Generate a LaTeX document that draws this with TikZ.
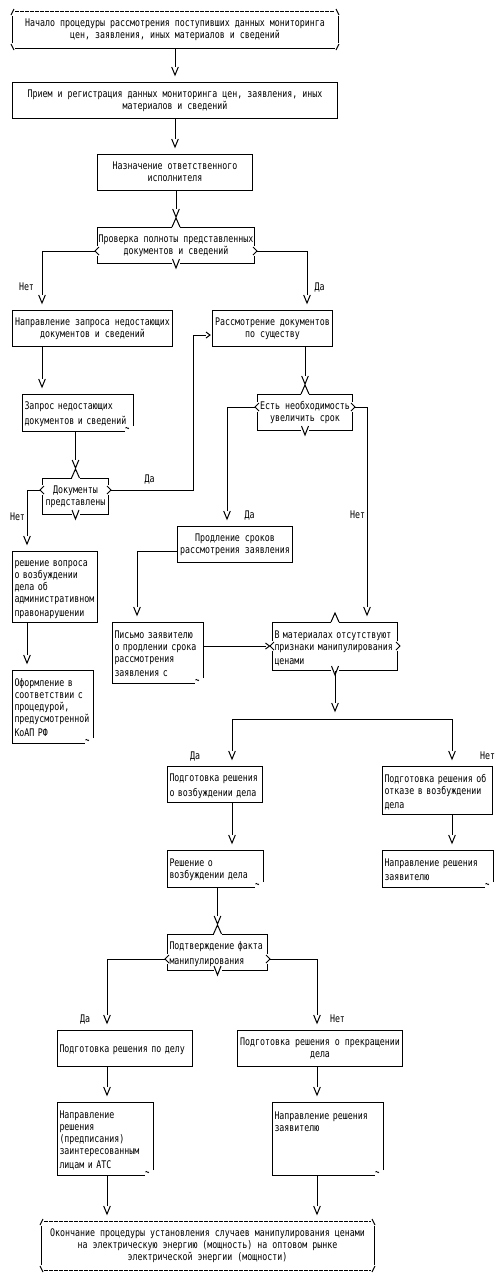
\documentclass[tikz,border=0pt]{standalone}
\usepackage{fontspec}
\newfontfamily\pixfont[FakeStretch=0.79]{DejaVu Sans Mono}
\newcommand\pixfs{\pixfont\fontsize{10.5pt}{12pt}\selectfont}
\newcommand\pixstrut{\vrule height 11pt depth 1pt width 0pt\relax}
\usetikzlibrary{calc,arrows.meta}

\pgfdeclarearrow{
  name = AV,
  parameters = {\the\pgflinewidth},
  setup code = {
    \pgfarrowssettipend{0pt}
    \pgfarrowssetlineend{-8.5pt}
    \pgfarrowssetvisualbackend{-8pt}
    \pgfarrowssetbackend{-8pt}
    \pgfarrowshullpoint{0pt}{0pt}
    \pgfarrowshullpoint{-8pt}{3.3pt}
    \pgfarrowshullpoint{-8pt}{-3.3pt}
  },
  drawing code = {
    \pgfpathmoveto{\pgfqpoint{-8pt}{3.3pt}}
    \pgfpathlineto{\pgfqpoint{0pt}{0pt}}
    \pgfpathlineto{\pgfqpoint{-8pt}{-3.3pt}}
    \pgfusepathqstroke
  }
}
\pgfdeclarearrow{
  name = AH,
  parameters = {\the\pgflinewidth},
  setup code = {
    \pgfarrowssettipend{0pt}
    \pgfarrowssetlineend{-4pt}
    \pgfarrowssetvisualbackend{-4pt}
    \pgfarrowssetbackend{-4pt}
    \pgfarrowshullpoint{0pt}{0pt}
    \pgfarrowshullpoint{-4pt}{3pt}
    \pgfarrowshullpoint{-4pt}{-3pt}
  },
  drawing code = {
    \pgfpathmoveto{\pgfqpoint{-4pt}{3pt}}
    \pgfpathlineto{\pgfqpoint{0pt}{0pt}}
    \pgfpathlineto{\pgfqpoint{-4pt}{-3pt}}
    \pgfusepathqstroke
  }
}

\tikzset{
  base/.style={anchor=north west, inner ysep=0pt,
    execute at begin node=\pixstrut, execute at end node=\pixstrut},
  cbox/.style={base, draw, inner xsep=1pt, align=center},
  lbox/.style={base, draw, inner xsep=2pt, align=left},
  cterm/.style={base, inner xsep=1pt, align=center},
  ldoc/.style={base, inner xsep=2pt, align=left},
  lbl/.style={inner sep=0pt},
  conn/.style={-AV, shorten >=7pt},
  dconn/.style={-AV, shorten >=10pt},
  hconn/.style={-AH, shorten >=2pt},
  tdash/.style={dash pattern=on 3.5pt off 1.5pt},
}

\newcommand\docborder[1]{%
  \draw ($(#1.south east)+(0,-5)$) -- (#1.north east) -- (#1.north west) -- (#1.south west) -- ($(#1.south east)+(-8,0)$);
  \draw[line width=0.8pt] ($(#1.south east)+(-7.5,-3)$) .. controls ($(#1.south east)+(-6.5,-5)$) and ($(#1.south east)+(-5,-1)$) .. ($(#1.south east)+(-4,-3)$);
}
\newcommand\termborder[2]{%
  \draw[tdash] ($(#1.north west)+(3,0)$) -- ($(#1.north east)+(-3,0)$);
  \draw[#2] ($(#1.south west)+(3,0)$) -- ($(#1.south east)+(-3,0)$);
  \draw ($(#1.north west)+(0,5)$) -- ($(#1.south west)+(0,-5)$);
  \draw ($(#1.north east)+(0,5)$) -- ($(#1.south east)+(0,-5)$);
  \draw ($(#1.north west)+(-1,4)$) -- ($(#1.north west)+(2,-2)$);
  \draw ($(#1.south west)+(-1,-4)$) -- ($(#1.south west)+(2,2)$);
  \draw ($(#1.north east)+(1,4)$) -- ($(#1.north east)+(-2,-2)$);
  \draw ($(#1.south east)+(1,-4)$) -- ($(#1.south east)+(-2,2)$);
}
\newcommand\decmarks[2]{%
  \coordinate (#1-L) at ($(#1.north west)+(-2,#2)$);
  \coordinate (#1-R) at ($(#1.north east)+(2,#2)$);
  \fill[white] ($(#1.north)+(-4,-1.5)$) rectangle ($(#1.north)+(4,1.5)$);
  \draw ($(#1.north)+(-4,0)$) -- ($(#1.north)+(0,-9)$) -- ($(#1.north)+(4,0)$);
  \fill[white] ($(#1.south)+(-4,-1.5)$) rectangle ($(#1.south)+(4,1.5)$);
  \draw ($(#1.south)+(-3.5,-5)$) -- ($(#1.south)+(0,4)$) -- ($(#1.south)+(3.5,-5)$);
  \fill[white] ($(#1.north west)+(-1.5,#2-5)$) rectangle ($(#1.north west)+(1.5,#2+5)$);
  \fill[white] ($(#1.north east)+(-1.5,#2-5)$) rectangle ($(#1.north east)+(1.5,#2+5)$);
  \draw ($(#1-L)+(4,-4)$) -- (#1-L) -- ($(#1-L)+(4,4)$);
  \draw ($(#1-R)+(-4,-4)$) -- (#1-R) -- ($(#1-R)+(-4,4)$);
}

\begin{document}
\begin{tikzpicture}[x=1pt, y=-1pt, line width=1pt, every node/.style={font=\pixfs}]
\fill[white] (0,0) rectangle (503,1280);
\useasboundingbox (0,0) rectangle (503,1280);

% ---------- nodes ----------
\node[cterm, minimum width=325pt, minimum height=36pt] (start) at (12,11)
  {Начало процедуры рассмотрения поступивших данных мониторинга\\цен, заявления, иных материалов и сведений};
\node[cbox, minimum width=325pt, minimum height=36pt] (reg) at (12,82)
  {Прием и регистрация данных мониторинга цен, заявления, иных\\материалов и сведений};
\node[cbox, minimum width=155pt, minimum height=36pt] (assign) at (97,154)
  {Назначение ответственного\\исполнителя};
\node[cbox, minimum width=157pt, minimum height=36pt] (check) at (97,227)
  {Проверка полноты представленных\\документов и сведений};
\node[cbox, minimum width=160pt, minimum height=36pt] (naprz) at (12,310)
  {Направление запроса недостающих\\документов и сведений};
\node[cbox, minimum width=120pt, minimum height=36pt] (rassm) at (212,310)
  {Рассмотрение документов\\по существу};
\node[ldoc, minimum width=110pt, minimum height=36pt, text width=106pt] (zapros) at (22,394)
  {Запрос недостающих\\документов и сведений};
\node[cbox, minimum width=66pt, minimum height=36pt] (docs) at (42,478)
  {Документы\\представлены};
\node[cbox, minimum width=95pt, minimum height=36pt] (est) at (257,394)
  {Есть необходимость\\увеличить срок};
\node[lbox, minimum width=85pt, minimum height=71pt, text width=81pt] (reshv) at (12,551)
  {решение вопроса\\о возбуждении\\дела об\\административном\\правонарушении};
\node[cbox, minimum width=115pt, minimum height=36pt] (prodl) at (177,526)
  {Продление сроков\\рассмотрения заявления};
\node[lbox, minimum width=125pt, minimum height=48pt, text width=121pt] (vmat) at (272,622)
  {В материалах отсутствуют\\признаки манипулирования\\ценами};
\node[ldoc, minimum width=90pt, minimum height=60pt, text width=86pt] (pismo) at (112,622)
  {Письмо заявителю\\о продлении срока\\рассмотрения\\заявления с};
\node[ldoc, minimum width=80pt, minimum height=72pt, text width=76pt] (oform) at (12,670)
  {Оформление в\\соответствии с\\процедурой,\\предусмотренной\\КоАП РФ};
\node[lbox, minimum width=95pt, minimum height=36pt, text width=91pt] (podvozb) at (167,766)
  {Подготовка решения\\о возбуждении дела};
\node[lbox, minimum width=110pt, minimum height=48pt, text width=106pt] (podotk) at (382,766)
  {Подготовка решения об\\отказе в возбуждении\\дела};
\node[ldoc, minimum width=110pt, minimum height=36pt, text width=106pt] (naprzay1) at (382,850)
  {Направление решения\\заявителю};
\node[ldoc, minimum width=95pt, minimum height=36pt, text width=91pt] (reshvozb) at (167,850)
  {Решение о\\возбуждении дела};
\node[lbox, minimum width=100pt, minimum height=36pt, text width=96pt] (podtv) at (167,934)
  {Подтверждение факта\\манипулирования};
\node[lbox, minimum width=135pt, minimum height=36pt, text width=131pt] (poddelo) at (57,1030)
  {Подготовка решения по делу};
\node[cbox, minimum width=165pt, minimum height=36pt] (podprekr) at (237,1030)
  {Подготовка решения о прекращении\\дела};
\node[ldoc, minimum width=95pt, minimum height=72pt, text width=91pt] (naprpred) at (57,1102)
  {Направление\\решения\\(предписания)\\заинтересованным\\лицам и АТС};
\node[ldoc, minimum width=110pt, minimum height=72pt, text width=106pt] (naprzay2) at (272,1102)
  {Направление решения\\заявителю\\\mbox{}\\\mbox{}\\\mbox{}};
\node[cterm, minimum width=332pt, minimum height=48pt] (end) at (41,1221)
  {Окончание процедуры установления случаев манипулирования ценами\\на электрическую энергию (мощность) на оптовом рынке\\электрической энергии (мощности)};

% ---------- special borders ----------
\termborder{start}{solid}
\termborder{end}{tdash}
\docborder{zapros}
\docborder{pismo}
\docborder{oform}
\docborder{naprzay1}
\docborder{reshvozb}
\docborder{naprpred}
\docborder{naprzay2}
\decmarks{check}{24}
\decmarks{docs}{12}
\decmarks{est}{13}
\decmarks{vmat}{24}
\decmarks{podtv}{25}

% ---------- labels ----------
\node[lbl] (n1) at (26.5,287) {Нет};
\node[lbl] (d1) at (319.5,287) {Да};
\node[lbl] (d2) at (149.5,479) {Да};
\node[lbl] (n2) at (17.5,517) {Нет};
\node[lbl] (d3) at (249.5,515) {Да};
\node[lbl] (n3) at (357.5,515) {Нет};
\node[lbl] (d4) at (195,756) {Да};
\node[lbl] (n4) at (487.5,756) {Нет};
\node[lbl] (d5) at (85,1019) {Да};
\node[lbl] (n5) at (337.5,1019) {Нет};

% ---------- connectors ----------
\draw[conn] (start.south) -- (reg.north);
\draw[conn] (reg.south) -- (assign.north);
\draw[dconn] (check.north |- assign.south) -- (check.north);
\draw[conn] (check-L) -| ($(naprz.north west)+(30,0)$);
\draw[conn] (check-R) -| ($(rassm.north west)+(95,0)$);
\draw[conn] ($(naprz.south west)+(30,0)$) -- ($(zapros.north west)+(20,0)$);
\draw[dconn] (docs.north |- zapros.south) -- (docs.north);
\draw[conn] (docs-L) -| ($(reshv.north west)+(15,0)$);
\draw[hconn] (docs-R) -- ($(docs-R)+(82,0)$) |- ($(rassm.north west)+(0,25)$);
\draw[dconn] (est.north |- rassm.south) -- (est.north);
\draw[conn] (est-L) -| ($(prodl.north west)+(50,0)$);
\draw[conn] (est-R) -| ($(vmat.north west)+(95,0)$);
\draw[conn] ($(prodl.north west)+(0,25)$) -| ($(pismo.north west)+(25,0)$);
\draw[hconn, shorten >=0.5pt] ($(pismo.north east)+(0,24)$) -- (vmat-L);
\draw[conn] ($(reshv.south west)+(15,0)$) -- ($(oform.north west)+(15,0)$);
\coordinate (junc) at ($(vmat.south)+(0,48)$);
\draw[-AV, shorten >=8pt] (vmat.south) -- (junc);
\draw[conn] (junc) -| ($(podvozb.north west)+(65,0)$);
\draw[conn] (junc) -| ($(podotk.north west)+(70,0)$);
\draw[conn] ($(podotk.south west)+(70,0)$) -- ($(naprzay1.north west)+(70,0)$);
\draw[conn] ($(podvozb.south west)+(65,0)$) -- ($(reshvozb.north west)+(65,0)$);
\draw[dconn] (podtv.north |- reshvozb.south) -- (podtv.north);
\draw[conn] (podtv-L) -| ($(poddelo.north west)+(50,0)$);
\draw[conn] (podtv-R) -| ($(podprekr.north west)+(80,0)$);
\draw[conn] ($(poddelo.south west)+(50,0)$) -- ($(naprpred.north west)+(50,0)$);
\draw[conn] ($(podprekr.south west)+(80,0)$) -- ($(naprzay2.north west)+(45,0)$);
\draw[conn] ($(naprpred.south west)+(50,0)$) -- ($(end.north west)+(66,0)$);
\draw[conn] ($(naprzay2.south west)+(45,0)$) -- ($(end.north west)+(276,0)$);
\end{tikzpicture}
\end{document}
